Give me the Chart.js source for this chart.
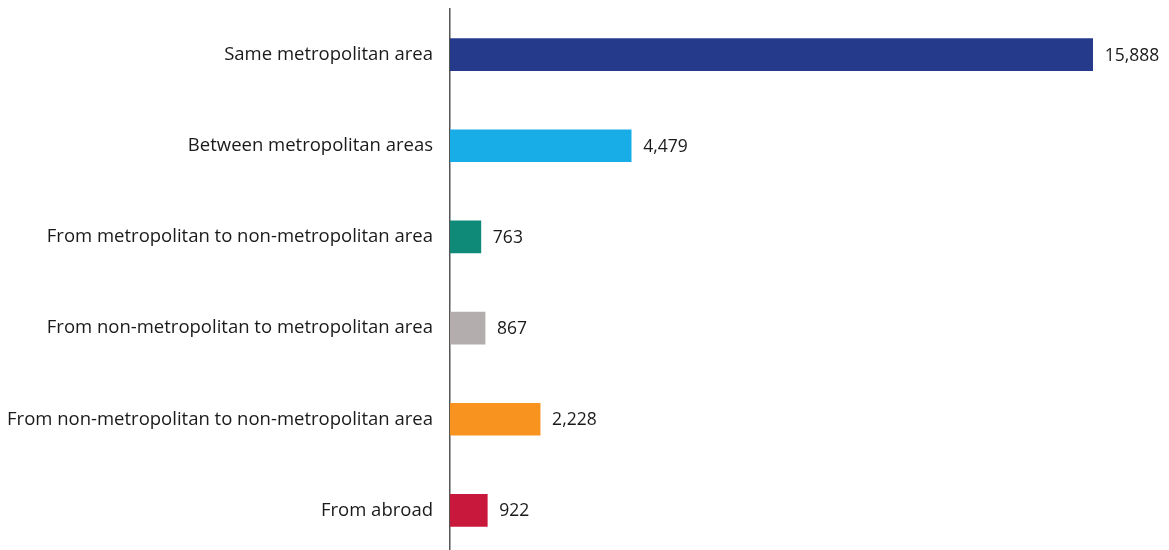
<!DOCTYPE html>
<html>
<head>
<meta charset="utf-8">
<script src="https://cdn.jsdelivr.net/npm/chart.js@4/dist/chart.umd.min.js"></script>
<style>
html,body{margin:0;padding:0;background:#fff;overflow:hidden;}
#wrap{position:relative;width:1169px;height:556px;}
</style>
</head>
<body>
<div id="wrap"><canvas id="c"></canvas></div>
<script>
const categories = [
  "Same metropolitan area",
  "Between metropolitan areas",
  "From metropolitan to non-metropolitan area",
  "From non-metropolitan to metropolitan area",
  "From non-metropolitan to non-metropolitan area",
  "From abroad"
];
const values = [15888, 4479, 763, 867, 2228, 922];
const valueLabels = ["15,888", "4,479", "763", "867", "2,228", "922"];
const barColors = ["#263a8c", "#18ade6", "#108a78", "#b3adad", "#f7931e", "#c8183c"];

const FONT = "'Open Sans', sans-serif";

const valueLabelPlugin = {
  id: 'valueLabels',
  afterDatasetsDraw(chart) {
    const ctx = chart.ctx;
    const meta = chart.getDatasetMeta(0);
    ctx.save();
    ctx.font = "17.5px " + FONT;
    ctx.fillStyle = "#1a1a1a";
    ctx.textAlign = "left";
    ctx.textBaseline = "middle";
    meta.data.forEach((bar, i) => {
      ctx.fillText(valueLabels[i], bar.x + 12, bar.y + 1);
    });
    ctx.restore();
  }
};

new Chart(document.getElementById('c'), {
  type: 'bar',
  data: {
    labels: categories,
    datasets: [{
      data: values,
      backgroundColor: barColors,
      barThickness: 32,
      borderWidth: 0
    }]
  },
  options: {
    indexAxis: 'y',
    responsive: true,
    maintainAspectRatio: false,
    animation: false,
    layout: { padding: { top: 9, right: 0, bottom: 0, left: 0 } },
    plugins: { legend: { display: false }, tooltip: { enabled: false } },
    scales: {
      x: {
        min: 0,
        max: 17775,
        display: false,
        grid: { display: false }
      },
      y: {
        afterFit(scale) {
          scale.width = 450;
          scale.paddingTop = 0;
          scale.paddingBottom = 0;
        },
        grid: { display: false, drawTicks: false },
        border: { display: true, color: '#555', width: 1.5 },
        ticks: {
          padding: 17,
          color: '#1a1a1a',
          font: { family: FONT, size: 18.5 }
        }
      }
    }
  },
  plugins: [valueLabelPlugin]
});
</script>
</body>
</html>
